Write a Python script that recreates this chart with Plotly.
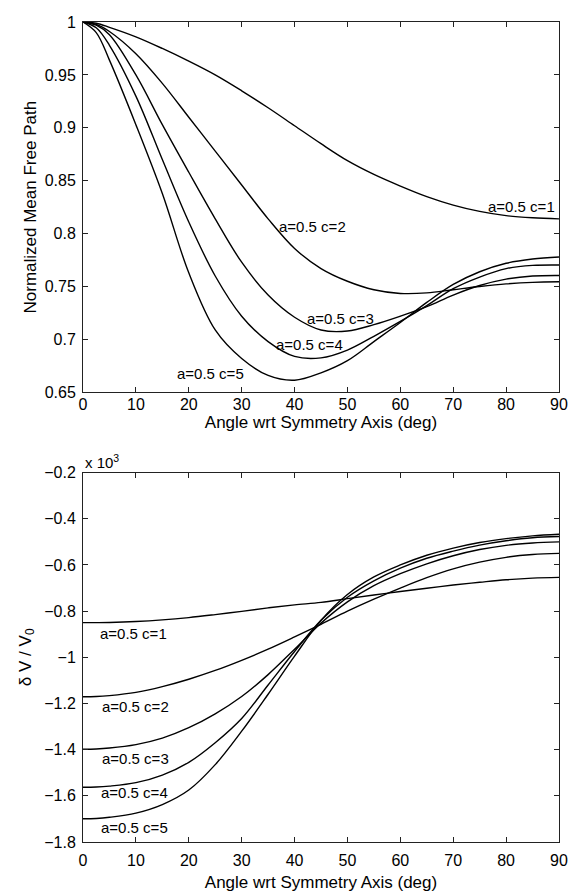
import plotly.graph_objects as go

# ---------------- data ----------------
angle = [0, 2.5, 5, 10, 15, 20, 25, 30, 35, 40, 45, 50, 55, 60, 65, 70, 75, 80, 85, 90]

# Top: normalized mean free path
mfp_c1 = [1.000, 0.9988, 0.995, 0.986, 0.975, 0.963, 0.950, 0.935, 0.919, 0.902, 0.885, 0.869, 0.856, 0.845, 0.835, 0.827, 0.821, 0.817, 0.815, 0.814]
mfp_c2 = [1.000, 0.9977, 0.991, 0.970, 0.942, 0.910, 0.878, 0.846, 0.814, 0.786, 0.767, 0.755, 0.747, 0.7435, 0.744, 0.747, 0.750, 0.7525, 0.754, 0.7545]
mfp_c3 = [1.000, 0.997, 0.988, 0.950, 0.903, 0.858, 0.814, 0.773, 0.742, 0.721, 0.709, 0.708, 0.714, 0.722, 0.731, 0.742, 0.751, 0.757, 0.760, 0.7605]
mfp_c4 = [1.000, 0.9945, 0.978, 0.930, 0.870, 0.811, 0.760, 0.722, 0.698, 0.684, 0.6826, 0.690, 0.703, 0.717, 0.732, 0.748, 0.759, 0.767, 0.770, 0.7704]
mfp_c5 = [1.000, 0.990, 0.964, 0.903, 0.838, 0.763, 0.709, 0.682, 0.666, 0.6615, 0.6685, 0.680, 0.698, 0.716, 0.735, 0.752, 0.764, 0.772, 0.776, 0.778]

# Bottom: delta V / V0 (x 10^3)
dv_c1 = [-0.850, -0.8498, -0.849, -0.845, -0.838, -0.828, -0.815, -0.801, -0.786, -0.773, -0.762, -0.746, -0.730, -0.715, -0.701, -0.687, -0.675, -0.664, -0.657, -0.654]
dv_c2 = [-1.171, -1.170, -1.166, -1.152, -1.127, -1.095, -1.057, -1.013, -0.965, -0.912, -0.857, -0.800, -0.748, -0.700, -0.655, -0.617, -0.588, -0.567, -0.555, -0.550]
dv_c3 = [-1.398, -1.397, -1.393, -1.378, -1.350, -1.305, -1.245, -1.170, -1.075, -0.965, -0.852, -0.760, -0.690, -0.638, -0.595, -0.560, -0.533, -0.515, -0.505, -0.500]
dv_c4 = [-1.563, -1.562, -1.558, -1.543, -1.510, -1.455, -1.370, -1.265, -1.120, -0.975, -0.840, -0.740, -0.669, -0.614, -0.571, -0.540, -0.514, -0.495, -0.482, -0.477]
dv_c5 = [-1.699, -1.698, -1.693, -1.675, -1.638, -1.575, -1.465, -1.320, -1.160, -0.995, -0.840, -0.728, -0.652, -0.600, -0.558, -0.527, -0.503, -0.486, -0.474, -0.467]

labels = ["a=0.5 c=1", "a=0.5 c=2", "a=0.5 c=3", "a=0.5 c=4", "a=0.5 c=5"]
top_label_x = [82.9, 43.4, 48.6, 42.9, 24.2]
top_label_y = [0.8254, 0.807, 0.720, 0.695, 0.6676]
bot_label_x = [9.6, 10.0, 10.0, 9.7, 9.7]
bot_label_y = [-0.898, -1.215, -1.437, -1.584, -1.737]

x_ticks = [0, 10, 20, 30, 40, 50, 60, 70, 80, 90]

# ---------------- figure ----------------
FONT = "Liberation Sans, Arial, Helvetica, sans-serif"
fig = go.Figure()

line = dict(color="black", width=1.4, shape="spline", smoothing=1.0)
for ys in [mfp_c1, mfp_c2, mfp_c3, mfp_c4, mfp_c5]:
    fig.add_trace(go.Scatter(x=angle, y=ys, mode="lines", line=line, xaxis="x", yaxis="y", showlegend=False, hoverinfo="skip"))
for ys in [dv_c1, dv_c2, dv_c3, dv_c4, dv_c5]:
    fig.add_trace(go.Scatter(x=angle, y=ys, mode="lines", line=line, xaxis="x2", yaxis="y2", showlegend=False, hoverinfo="skip"))

ann = []
for t, x, y in zip(labels, top_label_x, top_label_y):
    ann.append(dict(text=t, x=x, y=y, xref="x", yref="y", showarrow=False, font=dict(size=15, family=FONT, color="black")))
for t, x, y in zip(labels, bot_label_x, bot_label_y):
    ann.append(dict(text=t, x=x, y=y, xref="x2", yref="y2", showarrow=False, font=dict(size=15, family=FONT, color="black")))

# page body adds an 8px offset; figure is sized/offset to compensate
W, H = 572, 887
ML, MR, MT, MB = 75, 21, 6, 53
plot_h = H - MT - MB
top_dom0 = (834 - 380) / plot_h
bot_dom1 = (834 - 461) / plot_h
exp_y = (834 - 450) / plot_h

ann.append(dict(text="x 10<sup>3</sup>", x=0.0, y=exp_y, xref="paper", yref="paper", xanchor="left", yanchor="middle",
                showarrow=False, font=dict(size=15, family=FONT, color="black")))

axis_common = dict(showline=True, linecolor="#222", linewidth=1, mirror="ticks", ticks="inside", ticklen=5,
                   tickcolor="#222", showgrid=False, zeroline=False,
                   tickfont=dict(size=16, family=FONT, color="black"))

fig.update_layout(
    width=W, height=H,
    margin=dict(l=ML, r=MR, t=MT, b=MB),
    paper_bgcolor="white", plot_bgcolor="white",
    annotations=ann,
    xaxis=dict(**axis_common, domain=[0, 1], anchor="y", range=[0, 90], tickvals=x_ticks, ticklabelstandoff=-3,
               title=dict(text="Angle wrt Symmetry Axis (deg)", font=dict(size=17, family=FONT, color="black"), standoff=3)),
    yaxis=dict(**axis_common, domain=[top_dom0, 1], anchor="x", range=[0.65, 1], dtick=0.05, tick0=0.65, ticklabelstandoff=3,
               title=dict(text="Normalized Mean Free Path", font=dict(size=17, family=FONT, color="black"), standoff=3)),
    xaxis2=dict(**axis_common, domain=[0, 1], anchor="y2", range=[0, 90], tickvals=x_ticks, ticklabelstandoff=4,
                title=dict(text="Angle wrt Symmetry Axis (deg)", font=dict(size=17, family=FONT, color="black"), standoff=7)),
    yaxis2=dict(**axis_common, domain=[0, bot_dom1], anchor="x2", range=[-1.8, -0.2], dtick=0.2, tick0=-1.8, ticklabelstandoff=3,
                title=dict(text="δ V / V<sub>0</sub>", font=dict(size=17, family=FONT, color="black"), standoff=8)),
)

fig.write_html("out.html")
